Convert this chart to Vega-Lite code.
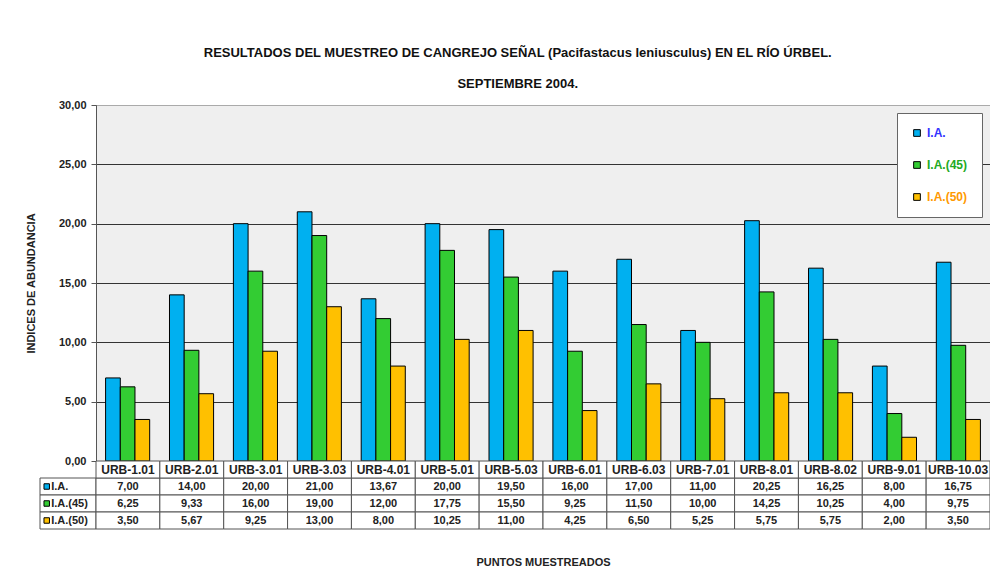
{
"$schema": "https://vega.github.io/schema/vega-lite/v6.json",
"padding": {"left": 24, "top": 46, "right": 0, "bottom": 0},
"background": "white",
"config": {
  "font": "Liberation Sans",
  "locale": {"number": {"decimal": ",", "thousands": ".", "grouping": [3], "currency": ["", " €"]}},
  "view": {"stroke": null}
},
"title": {"text": "RESULTADOS DEL MUESTREO DE CANGREJO SEÑAL (Pacifastacus leniusculus) EN EL RÍO ÚRBEL.", "subtitle": "SEPTIEMBRE 2004.", "font": "Liberation Sans", "fontSize": 13, "fontWeight": "bold", "color": "#111", "subtitleFont": "Liberation Sans", "subtitleFontSize": 13, "subtitleFontWeight": "bold", "subtitleColor": "#111", "subtitlePadding": 18, "offset": 8, "anchor": "middle", "dx": 10},
"datasets": {"datos": [
{"punto":"URB-1.01","serie":"I.A.","valor":7.00},{"punto":"URB-1.01","serie":"I.A.(45)","valor":6.25},{"punto":"URB-1.01","serie":"I.A.(50)","valor":3.50},
{"punto":"URB-2.01","serie":"I.A.","valor":14.00},{"punto":"URB-2.01","serie":"I.A.(45)","valor":9.33},{"punto":"URB-2.01","serie":"I.A.(50)","valor":5.67},
{"punto":"URB-3.01","serie":"I.A.","valor":20.00},{"punto":"URB-3.01","serie":"I.A.(45)","valor":16.00},{"punto":"URB-3.01","serie":"I.A.(50)","valor":9.25},
{"punto":"URB-3.03","serie":"I.A.","valor":21.00},{"punto":"URB-3.03","serie":"I.A.(45)","valor":19.00},{"punto":"URB-3.03","serie":"I.A.(50)","valor":13.00},
{"punto":"URB-4.01","serie":"I.A.","valor":13.67},{"punto":"URB-4.01","serie":"I.A.(45)","valor":12.00},{"punto":"URB-4.01","serie":"I.A.(50)","valor":8.00},
{"punto":"URB-5.01","serie":"I.A.","valor":20.00},{"punto":"URB-5.01","serie":"I.A.(45)","valor":17.75},{"punto":"URB-5.01","serie":"I.A.(50)","valor":10.25},
{"punto":"URB-5.03","serie":"I.A.","valor":19.50},{"punto":"URB-5.03","serie":"I.A.(45)","valor":15.50},{"punto":"URB-5.03","serie":"I.A.(50)","valor":11.00},
{"punto":"URB-6.01","serie":"I.A.","valor":16.00},{"punto":"URB-6.01","serie":"I.A.(45)","valor":9.25},{"punto":"URB-6.01","serie":"I.A.(50)","valor":4.25},
{"punto":"URB-6.03","serie":"I.A.","valor":17.00},{"punto":"URB-6.03","serie":"I.A.(45)","valor":11.50},{"punto":"URB-6.03","serie":"I.A.(50)","valor":6.50},
{"punto":"URB-7.01","serie":"I.A.","valor":11.00},{"punto":"URB-7.01","serie":"I.A.(45)","valor":10.00},{"punto":"URB-7.01","serie":"I.A.(50)","valor":5.25},
{"punto":"URB-8.01","serie":"I.A.","valor":20.25},{"punto":"URB-8.01","serie":"I.A.(45)","valor":14.25},{"punto":"URB-8.01","serie":"I.A.(50)","valor":5.75},
{"punto":"URB-8.02","serie":"I.A.","valor":16.25},{"punto":"URB-8.02","serie":"I.A.(45)","valor":10.25},{"punto":"URB-8.02","serie":"I.A.(50)","valor":5.75},
{"punto":"URB-9.01","serie":"I.A.","valor":8.00},{"punto":"URB-9.01","serie":"I.A.(45)","valor":4.00},{"punto":"URB-9.01","serie":"I.A.(50)","valor":2.00},
{"punto":"URB-10.03","serie":"I.A.","valor":16.75},{"punto":"URB-10.03","serie":"I.A.(45)","valor":9.75},{"punto":"URB-10.03","serie":"I.A.(50)","valor":3.50}
]},
"columns": 2,
"spacing": 0,
"bounds": "flush",
"resolve": {"scale": {"color": "independent"}, "legend": {"color": "independent"}},
"concat": [
{
  "width": 56, "height": 356,
  "data": {"values": []},
  "mark": "point",
  "encoding": {}
},
{
  "width": 894, "height": 356,
  "data": {"name": "datos"},
  "view": {"fill": "#efefef", "stroke": "#777"},
  "mark": {"type": "bar", "stroke": "black", "strokeWidth": 1},
  "encoding": {
    "x": {"field": "punto", "type": "nominal", "sort": ["URB-1.01","URB-2.01","URB-3.01","URB-3.03","URB-4.01","URB-5.01","URB-5.03","URB-6.01","URB-6.03","URB-7.01","URB-8.01","URB-8.02","URB-9.01","URB-10.03"], "scale": {"paddingInner": 0.31, "paddingOuter": 0.15}, "axis": null},
    "xOffset": {"field": "serie", "type": "nominal", "sort": ["I.A.","I.A.(45)","I.A.(50)"]},
    "y": {"field": "valor", "type": "quantitative", "scale": {"domain": [0, 30]}, "axis": {
      "values": [0,5,10,15,20,25,30], "format": ".2f",
      "labelFont": "Liberation Sans", "labelFontWeight": "bold", "labelFontSize": 11, "labelColor": "#222", "labelPadding": 5,
      "domainColor": "#555", "tickColor": "#555", "tickSize": 5,
      "grid": true, "gridColor": {"condition": {"test": "datum.value === 30", "value": "#aaaaaa"}, "value": "#333333"}, "gridOpacity": 1,
      "title": "INDICES DE ABUNDANCIA", "titleFont": "Liberation Sans", "titleFontSize": 11, "titleFontWeight": "bold", "titleColor": "#222", "titlePadding": 22
    }},
    "color": {"field": "serie", "type": "nominal", "scale": {"domain": ["I.A.","I.A.(45)","I.A.(50)"], "range": ["#00b0f0","#33cc33","#ffc000"]},
      "legend": {"title": null, "orient": "top-right", "offset": 8, "padding": 14, "strokeColor": "#666", "fillColor": "white", "rowPadding": 20,
        "symbolType": "square", "symbolSize": 45, "symbolStrokeColor": "black", "symbolStrokeWidth": 1, "symbolOpacity": 1,
        "labelFont": "Liberation Sans", "labelFontSize": 12, "labelFontWeight": "bold", "labelOffset": 4,
        "encode": {"labels": {"update": {"fill": {"signal": "datum.label === 'I.A.' ? '#3333ff' : datum.label === 'I.A.(45)' ? '#22aa22' : '#ff9900'"}}}}}}
  }
},
{
  "width": 56, "height": 68,
  "data": {"name": "datos"},
  "transform": [{"filter": "datum.punto === 'URB-1.01'"}],
  "encoding": {"y": {"field": "serie", "type": "nominal", "scale": {"domain": ["Punto","I.A.","I.A.(45)","I.A.(50)"], "paddingInner": 0, "paddingOuter": 0}, "axis": null}},
  "layer": [
    {"mark": {"type": "rect", "fill": "white", "stroke": "#555", "strokeWidth": 1}},
    {"mark": {"type": "point", "shape": "square", "filled": true, "size": 30, "stroke": "black", "strokeWidth": 1, "opacity": 1},
     "encoding": {"x": {"datum": 0.12, "type": "quantitative", "scale": {"domain": [0, 1]}, "axis": null},
                  "fill": {"field": "serie", "type": "nominal", "scale": {"domain": ["I.A.","I.A.(45)","I.A.(50)"], "range": ["#00b0f0","#33cc33","#ffc000"]}, "legend": null}}},
    {"mark": {"type": "text", "align": "left", "fontWeight": "bold", "fontSize": 11, "color": "#222", "font": "Liberation Sans"},
     "encoding": {"x": {"datum": 0.2, "type": "quantitative"}, "text": {"field": "serie"}}}
  ]
},
{
  "width": 894, "height": 68,
  "data": {"name": "datos"},
  "encoding": {
    "x": {"field": "punto", "type": "nominal", "sort": ["URB-1.01","URB-2.01","URB-3.01","URB-3.03","URB-4.01","URB-5.01","URB-5.03","URB-6.01","URB-6.03","URB-7.01","URB-8.01","URB-8.02","URB-9.01","URB-10.03"], "scale": {"paddingInner": 0, "paddingOuter": 0},
          "axis": {"labels": false, "ticks": false, "domain": false, "title": "PUNTOS MUESTREADOS", "titleFont": "Liberation Sans", "titleFontSize": 11, "titleFontWeight": "bold", "titleColor": "#222", "titlePadding": 27}},
    "y": {"field": "serie", "type": "nominal", "scale": {"domain": ["Punto","I.A.","I.A.(45)","I.A.(50)"], "paddingInner": 0, "paddingOuter": 0}, "axis": null}
  },
  "layer": [
    {"mark": {"type": "rect", "fill": "white", "stroke": "#555", "strokeWidth": 1}},
    {"mark": {"type": "text", "fontWeight": "bold", "fontSize": 11, "color": "#222", "font": "Liberation Sans"},
     "encoding": {"text": {"field": "valor", "type": "quantitative", "format": ".2f"}}},
    {"transform": [{"filter": "datum.serie === 'I.A.'"}],
     "mark": {"type": "rect", "fill": "white", "stroke": "#555", "strokeWidth": 1},
     "encoding": {"y": {"datum": "Punto", "type": "nominal"}}},
    {"transform": [{"filter": "datum.serie === 'I.A.'"}],
     "mark": {"type": "text", "fontWeight": "bold", "fontSize": 12, "color": "#222", "font": "Liberation Sans"},
     "encoding": {"y": {"datum": "Punto", "type": "nominal"}, "text": {"field": "punto"}}}
  ]
}
]
}
